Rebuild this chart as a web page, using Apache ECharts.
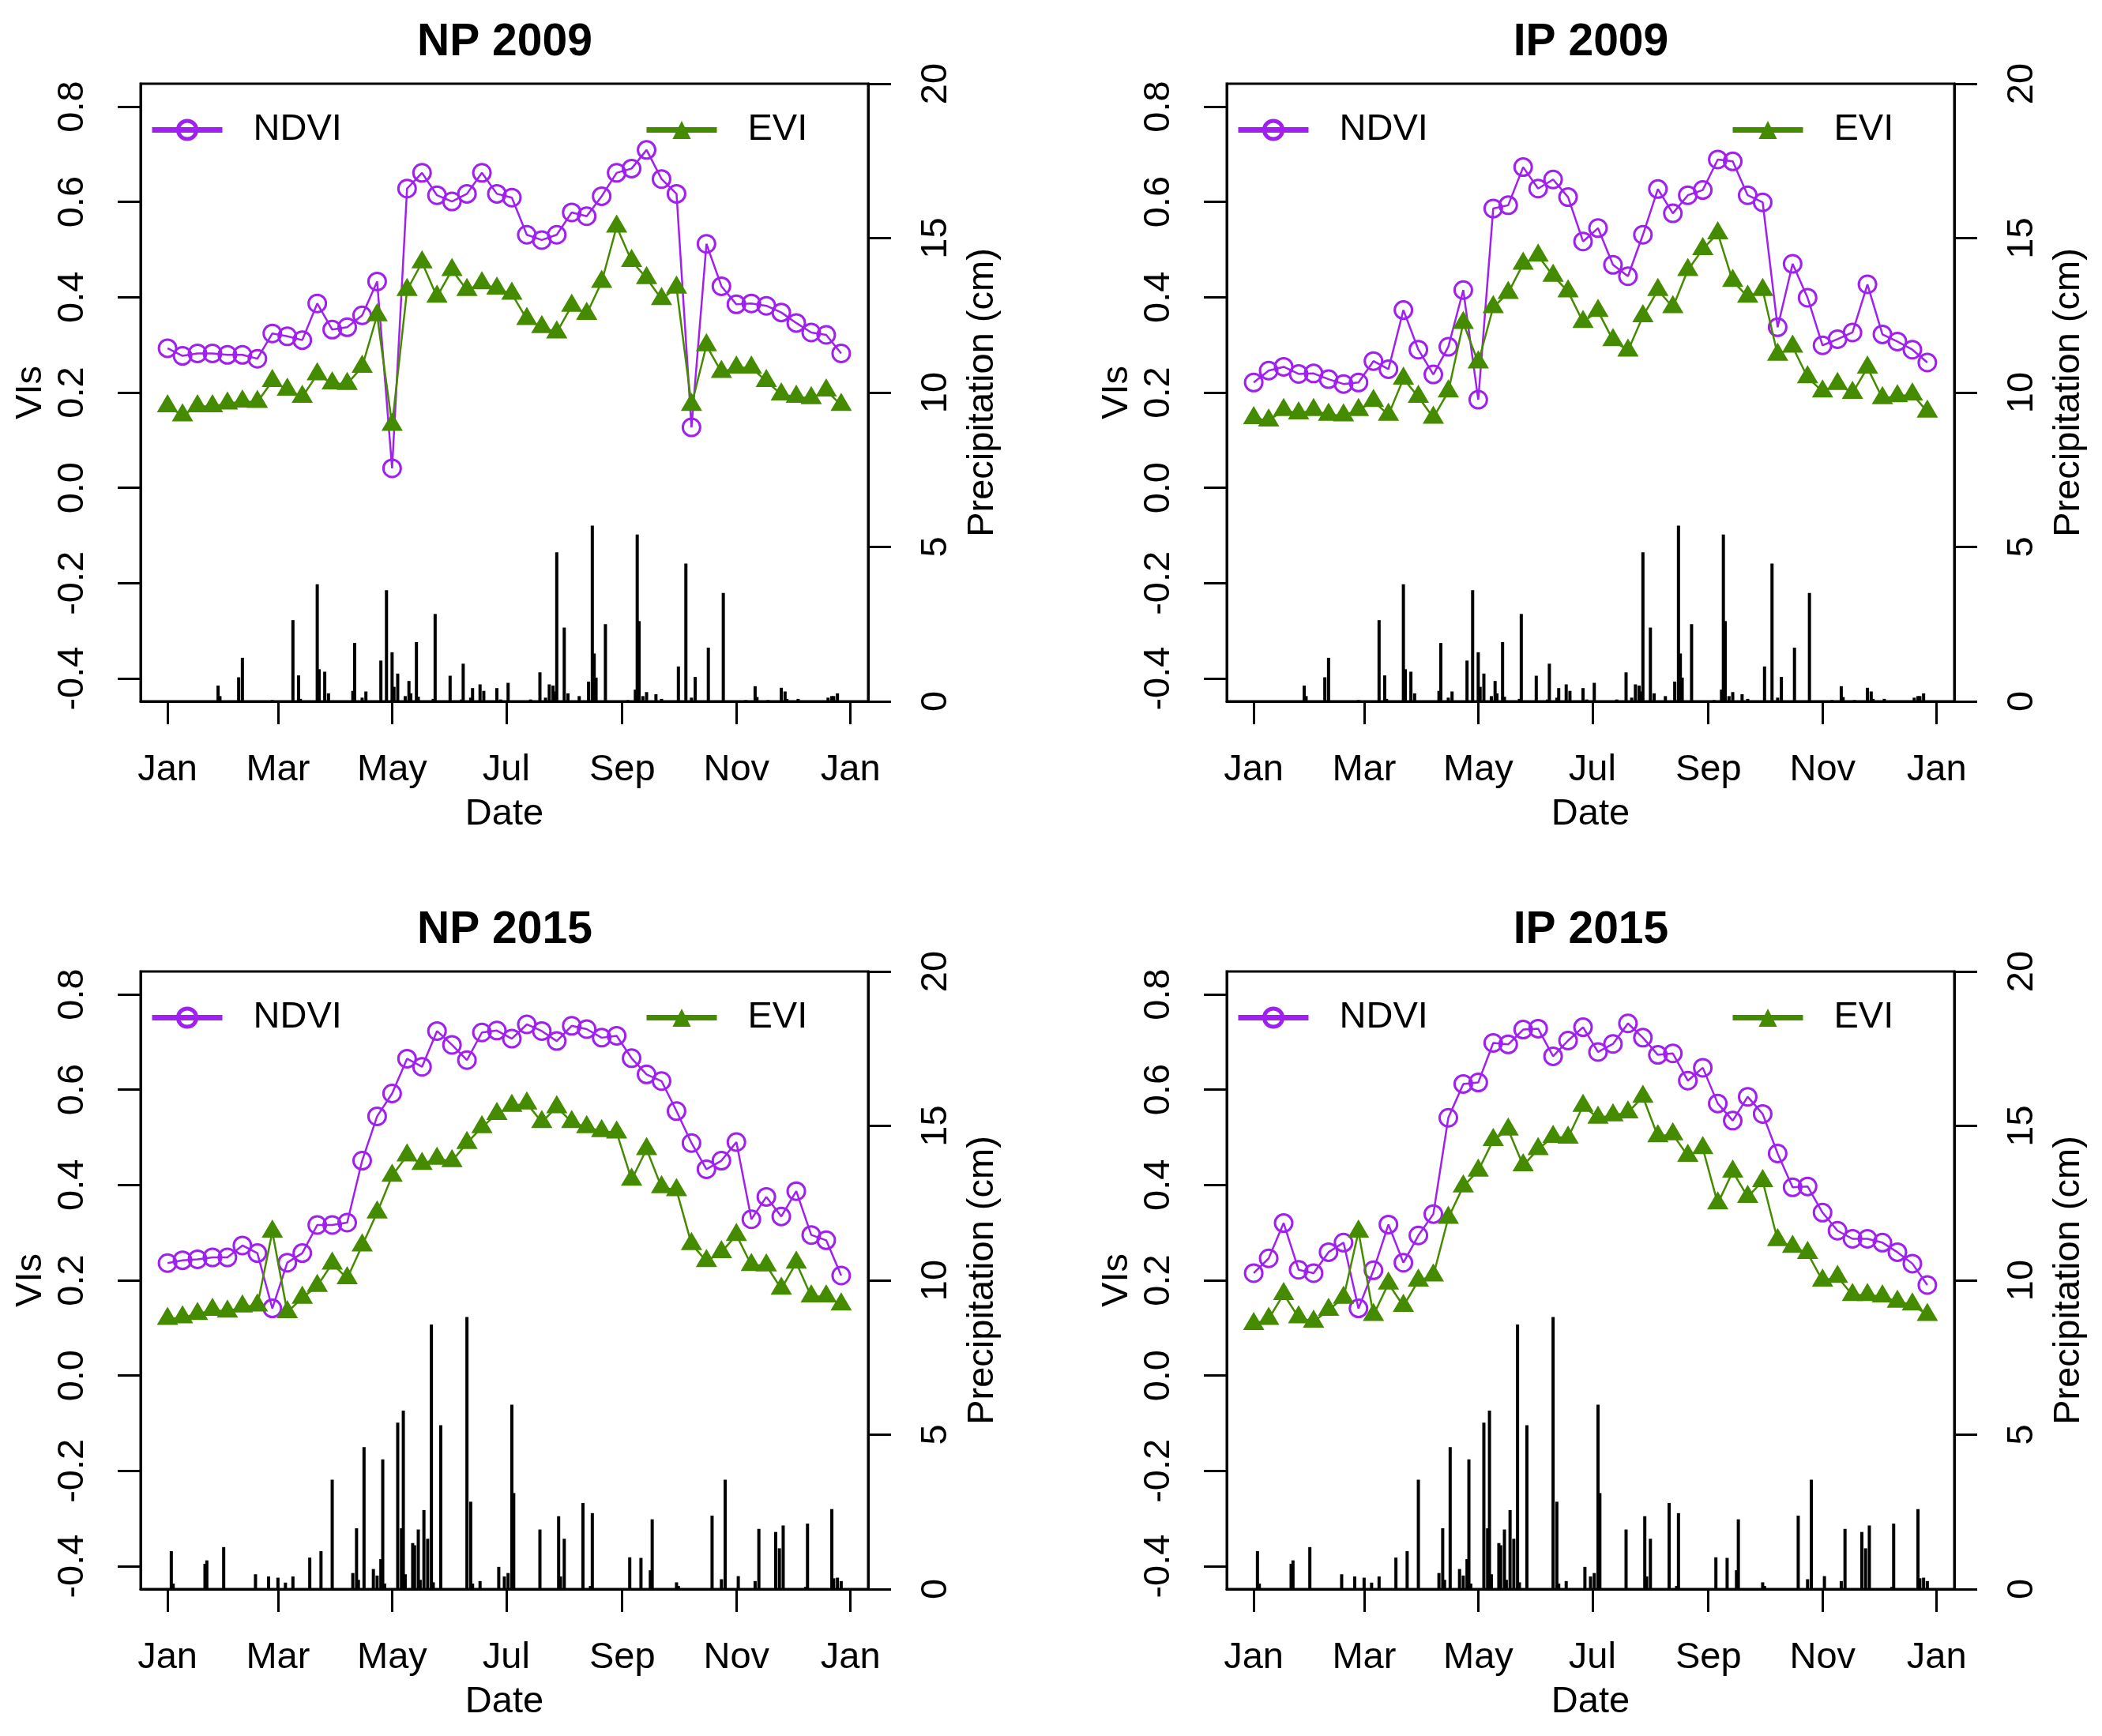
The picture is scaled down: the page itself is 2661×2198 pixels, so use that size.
<!DOCTYPE html>
<html>
<head>
<meta charset="utf-8">
<script src="https://cdn.jsdelivr.net/npm/echarts@6/dist/echarts.min.js"></script>
<style>
html,body{margin:0;padding:0;background:#fff;}
#chart{width:2661px;height:2198px;}
</style>
</head>
<body>
<div id="chart"></div>
<script>
// ---------- data ----------
const compositeDays = [0,8,16,24,32,40,48,56,64,72,80,88,96,104,112,120,128,136,144,152,160,168,176,184,192,200,208,216,224,232,240,248,256,264,272,280,288,296,304,312,320,328,336,344,352,360];
const monthTickDays = [0,59,120,181,243,304,365];
const monthTickLabels = ['Jan','Mar','May','Jul','Sep','Nov','Jan'];
const viTicks = [-0.4,-0.2,0,0.2,0.4,0.6,0.8];

const ndviNP2009 = [0.293,0.277,0.282,0.282,0.279,0.279,0.271,0.324,0.318,0.310,0.387,0.332,0.337,0.362,0.433,0.041,0.628,0.661,0.614,0.601,0.617,0.661,0.617,0.609,0.531,0.520,0.531,0.578,0.570,0.612,0.661,0.670,0.709,0.648,0.617,0.127,0.512,0.423,0.385,0.387,0.382,0.368,0.346,0.326,0.321,0.282];
const eviNP2009 = [0.171,0.152,0.171,0.171,0.177,0.181,0.180,0.224,0.206,0.191,0.238,0.219,0.218,0.254,0.362,0.132,0.415,0.473,0.401,0.457,0.415,0.429,0.418,0.407,0.354,0.337,0.326,0.382,0.365,0.432,0.548,0.476,0.440,0.396,0.420,0.174,0.299,0.243,0.252,0.252,0.224,0.196,0.191,0.188,0.204,0.174];
const ndviIP2009 = [0.221,0.246,0.254,0.239,0.240,0.228,0.218,0.221,0.266,0.249,0.373,0.290,0.238,0.296,0.415,0.185,0.586,0.593,0.673,0.628,0.647,0.610,0.517,0.545,0.468,0.444,0.531,0.627,0.576,0.614,0.625,0.689,0.685,0.614,0.599,0.337,0.470,0.399,0.299,0.312,0.326,0.427,0.322,0.307,0.290,0.263];
const eviIP2009 = [0.146,0.141,0.163,0.156,0.163,0.153,0.152,0.163,0.182,0.153,0.229,0.191,0.147,0.202,0.346,0.263,0.379,0.409,0.470,0.487,0.445,0.412,0.348,0.371,0.310,0.288,0.360,0.415,0.379,0.457,0.501,0.534,0.434,0.401,0.415,0.279,0.296,0.232,0.202,0.218,0.199,0.252,0.188,0.192,0.196,0.160];
const ndviNP2015 = [0.236,0.242,0.244,0.248,0.248,0.273,0.257,0.141,0.237,0.257,0.316,0.316,0.321,0.451,0.544,0.592,0.665,0.648,0.723,0.694,0.662,0.720,0.724,0.707,0.737,0.723,0.702,0.734,0.727,0.709,0.713,0.666,0.632,0.618,0.555,0.488,0.433,0.451,0.490,0.328,0.375,0.334,0.387,0.295,0.284,0.210];
const eviNP2015 = [0.119,0.122,0.129,0.138,0.134,0.145,0.147,0.302,0.133,0.163,0.188,0.235,0.204,0.273,0.342,0.419,0.462,0.444,0.455,0.450,0.488,0.521,0.549,0.566,0.571,0.532,0.563,0.532,0.521,0.513,0.510,0.411,0.475,0.395,0.389,0.276,0.240,0.259,0.295,0.232,0.231,0.182,0.237,0.166,0.166,0.149];
const ndviIP2015 = [0.215,0.246,0.320,0.222,0.215,0.259,0.279,0.141,0.221,0.317,0.237,0.294,0.339,0.541,0.612,0.615,0.698,0.695,0.726,0.728,0.670,0.703,0.731,0.679,0.696,0.739,0.709,0.673,0.676,0.619,0.646,0.571,0.535,0.585,0.549,0.466,0.395,0.397,0.342,0.304,0.287,0.287,0.279,0.259,0.235,0.190];
const eviIP2015 = [0.108,0.119,0.171,0.122,0.113,0.138,0.163,0.302,0.127,0.193,0.146,0.199,0.210,0.331,0.397,0.430,0.494,0.516,0.441,0.475,0.501,0.499,0.566,0.541,0.546,0.552,0.585,0.502,0.506,0.461,0.477,0.361,0.428,0.375,0.408,0.284,0.270,0.257,0.199,0.207,0.169,0.169,0.166,0.155,0.149,0.127];

// daily precipitation, [day of year from Jan 1, cm]
const precip2009 = [[27,0.51],[28,0.17],[38,0.78],[40,1.41],[56,0.04],[67,2.63],[70,0.84],[71,0.08],[80,3.79],[81,1.04],[84,0.96],[86,0.26],[99,0.34],[100,1.89],[104,0.12],[106,0.32],[114,1.32],[117,3.60],[120,1.59],[121,0.47],[123,0.90],[127,0.17],[129,0.66],[130,0.26],[133,1.92],[134,0.15],[142,0.08],[143,2.83],[151,0.83],[157,0.06],[158,1.22],[162,0.12],[163,0.43],[167,0.55],[169,0.34],[176,0.43],[178,0.06],[182,0.60],[194,0.06],[199,0.94],[202,0.12],[204,0.55],[206,0.51],[207,0.32],[208,4.83],[212,2.39],[214,0.26],[220,0.17],[225,0.64],[227,5.69],[228,1.55],[229,0.77],[234,2.50],[246,0.04],[250,0.38],[251,5.40],[252,2.60],[254,0.17],[256,0.30],[261,0.23],[264,0.08],[273,1.13],[277,4.46],[280,0.12],[282,0.79],[289,1.74],[297,3.51],[309,0.04],[314,0.49],[315,0.14],[321,0.04],[328,0.44],[330,0.32],[331,0.08],[337,0.08],[353,0.12],[355,0.17],[356,0.17],[358,0.26]];
const precip2015 = [[2,1.23],[3,0.18],[20,0.82],[21,0.93],[30,1.36],[47,0.48],[54,0.41],[59,0.37],[63,0.21],[67,0.41],[76,1.02],[82,1.23],[88,3.54],[99,0.52],[101,1.97],[102,0.30],[105,4.60],[110,0.65],[112,0.44],[114,0.97],[115,4.20],[116,0.18],[123,5.39],[125,1.97],[126,5.78],[127,0.48],[131,1.49],[132,1.42],[134,1.93],[135,0.30],[137,2.56],[139,1.63],[141,8.57],[142,0.22],[146,5.31],[160,8.81],[162,2.83],[163,0.18],[167,0.26],[177,0.72],[180,0.41],[182,0.52],[184,5.97],[185,3.11],[199,1.93],[209,2.36],[210,0.41],[212,1.63],[222,2.79],[226,0.10],[227,2.46],[247,1.03],[253,1.01],[258,0.61],[259,2.26],[272,0.22],[273,0.10],[291,2.38],[296,0.32],[298,3.54],[305,0.42],[314,0.26],[316,1.95],[325,1.85],[327,1.32],[329,2.06],[341,0.07],[342,2.12],[355,2.59],[356,0.35],[358,0.37],[360,0.26]];

const panels = [
  {title:'NP 2009', ndvi:ndviNP2009, evi:eviNP2009, precip:precip2009, dx:0,    dy:0},
  {title:'IP 2009', ndvi:ndviIP2009, evi:eviIP2009, precip:precip2009, dx:1375, dy:0},
  {title:'NP 2015', ndvi:ndviNP2015, evi:eviNP2015, precip:precip2015, dx:0,    dy:1124},
  {title:'IP 2015', ndvi:ndviIP2015, evi:eviIP2015, precip:precip2015, dx:1375, dy:1124}
];

// ---------- styling ----------
const FONT = 'Liberation Sans, Arial, Helvetica, sans-serif';
const NDVI_COLOR = '#A020F0';
const EVI_COLOR = '#458B00';
const txt = {color:'#000', fontSize:47, fontFamily:FONT};
const axLine = {show:true, onZero:false, lineStyle:{color:'#000', width:3}};

const grid = [], xAxis = [], yAxis = [], series = [], legend = [], title = [];

panels.forEach((p, i) => {
  grid.push({left:178+p.dx, top:106+p.dy, width:921, height:782, show:true,
             borderColor:'#000', borderWidth:3, backgroundColor:'transparent',
             containLabel:false, outerBoundsMode:'none'});
  title.push({text:p.title, left:639+p.dx, top:26+p.dy, textAlign:'center', padding:0,
              textStyle:{fontSize:57, fontWeight:'bold', color:'#000', fontFamily:FONT}});
  xAxis.push({gridIndex:i, type:'value', min:-14.4, max:374.4,
    axisLine:axLine,
    axisTick:{show:true, customValues:monthTickDays, length:29, lineStyle:{color:'#000', width:3}},
    axisLabel:Object.assign({show:true, customValues:monthTickDays, margin:64,
      formatter:v => monthTickLabels[monthTickDays.indexOf(v)]}, txt),
    splitLine:{show:false},
    name:'Date', nameLocation:'middle', nameGap:120, nameTextStyle:txt});
  yAxis.push({gridIndex:i, type:'value', position:'left', min:-0.448, max:0.848,
    axisLine:axLine,
    axisTick:{show:true, customValues:viTicks, length:29, lineStyle:{color:'#000', width:3}},
    axisLabel:Object.assign({show:true, customValues:viTicks, rotate:90, margin:62,
      formatter:v => Number(v).toFixed(1)}, txt),
    splitLine:{show:false},
    name:'VIs', nameLocation:'middle', nameRotate:90, nameGap:115, nameTextStyle:txt});
  yAxis.push({gridIndex:i, type:'value', position:'right', min:0, max:20, interval:5,
    axisLine:axLine,
    axisTick:{show:true, length:29, lineStyle:{color:'#000', width:3}},
    axisLabel:Object.assign({show:true, rotate:90, margin:63, showMinLabel:true, showMaxLabel:true}, txt),
    splitLine:{show:false},
    name:'Precipitation (cm)', nameLocation:'middle', nameRotate:90, nameGap:122, nameTextStyle:txt});

  series.push({type:'bar', name:'Precipitation', xAxisIndex:i, yAxisIndex:2*i+1,
    data:p.precip, barWidth:4, itemStyle:{color:'#000'}, z:1});
  series.push({type:'line', name:'NDVI', xAxisIndex:i, yAxisIndex:2*i,
    data:compositeDays.map((d,k) => [d, p.ndvi[k]]),
    symbol:'circle', symbolSize:22,
    itemStyle:{color:'rgba(0,0,0,0)', borderColor:NDVI_COLOR, borderWidth:3},
    lineStyle:{color:NDVI_COLOR, width:2.5}, z:3});
  series.push({type:'line', name:'EVI', xAxisIndex:i, yAxisIndex:2*i,
    data:compositeDays.map((d,k) => [d, p.evi[k]]),
    symbol:'triangle', symbolSize:[27,23], symbolOffset:[0,-4],
    itemStyle:{color:EVI_COLOR},
    lineStyle:{color:EVI_COLOR, width:2.5}, z:4});

  const lg = {orient:'horizontal', itemWidth:89, itemHeight:29, padding:0, selectedMode:false,
    textStyle:{color:'#000', fontSize:47, fontFamily:FONT, padding:[0,0,0,34]},
    lineStyle:{width:7}};
  legend.push(Object.assign({data:[{name:'NDVI', itemStyle:{borderWidth:5}}], left:189+p.dx, top:141+p.dy}, lg));
  legend.push(Object.assign({data:['EVI'], left:815+p.dx, top:141+p.dy}, lg));
});

const chart = echarts.init(document.getElementById('chart'), null, {renderer:'canvas'});
chart.setOption({
  backgroundColor:'#fff',
  animation:false,
  title, legend, grid, xAxis, yAxis, series
});
</script>
</body>
</html>
